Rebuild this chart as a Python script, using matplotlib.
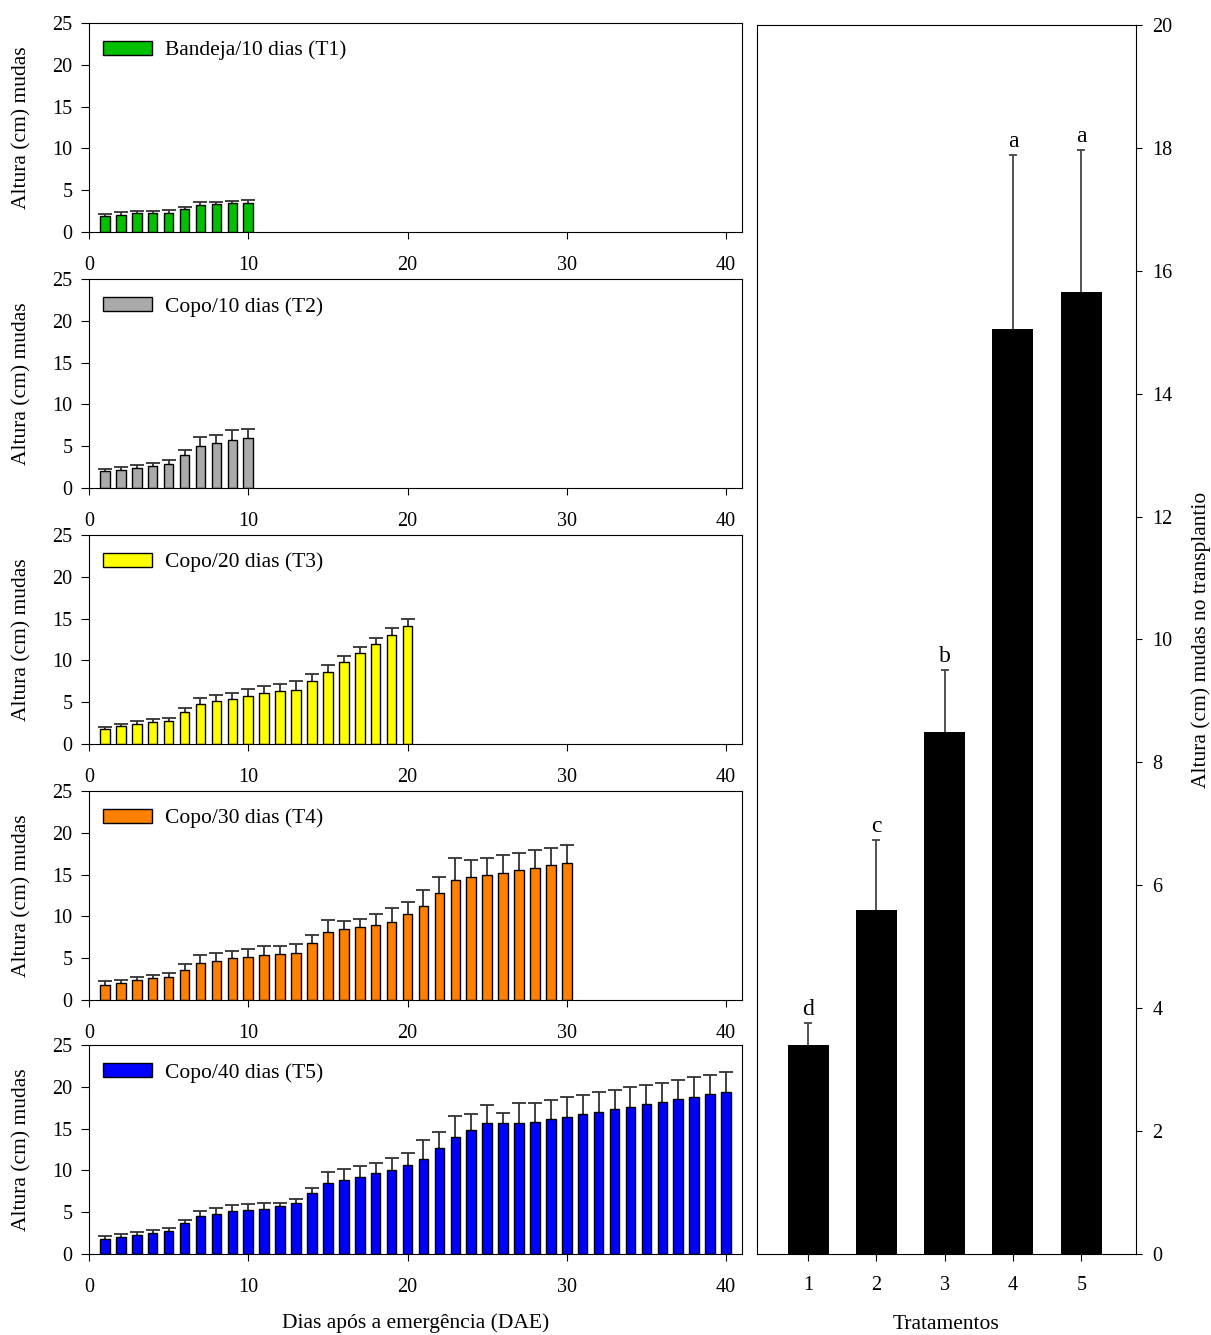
import numpy as np
import matplotlib.pyplot as plt

plt.rcParams['font.family'] = ['Liberation Serif', 'DejaVu Serif']
plt.rcParams['font.size'] = 15

# data
t1_mean = [1.88, 2.08, 2.24, 2.28, 2.32, 2.76, 3.24, 3.32, 3.44, 3.52]
t1_err = [0.32, 0.28, 0.32, 0.28, 0.32, 0.28, 0.36, 0.32, 0.31, 0.31]

t2_mean = [2.0, 2.19, 2.39, 2.67, 2.91, 3.95, 4.98, 5.34, 5.74, 5.98]
t2_err = [0.31, 0.32, 0.40, 0.36, 0.40, 0.63, 1.12, 0.96, 1.16, 1.11]

t3_mean = [1.84, 2.12, 2.40, 2.60, 2.80, 3.84, 4.84, 5.12, 5.36, 5.68,
           6.04, 6.28, 6.48, 7.56, 8.64, 9.76, 10.84, 11.96, 13.08, 14.16]
t3_err = [0.24, 0.24, 0.36, 0.40, 0.36, 0.48, 0.72, 0.72, 0.76, 0.84,
          0.92, 0.88, 1.04, 0.80, 0.80, 0.76, 0.76, 0.76, 0.76, 0.80]

t4_mean = [1.80, 2.08, 2.36, 2.60, 2.80, 3.64, 4.48, 4.72, 5.00, 5.16,
           5.36, 5.52, 5.68, 6.88, 8.16, 8.44, 8.72, 9.00, 9.32, 10.24,
           11.20, 12.76, 14.32, 14.68, 14.96, 15.24, 15.52, 15.84, 16.16, 16.44]
t4_err = [0.44, 0.36, 0.40, 0.40, 0.44, 0.64, 0.88, 0.96, 0.92, 1.00,
          1.12, 1.00, 1.04, 0.84, 1.36, 1.00, 0.96, 1.24, 1.64, 1.52,
          1.92, 1.92, 2.64, 2.12, 2.08, 2.12, 2.08, 2.08, 2.08, 2.12]

t5_mean = [1.80, 2.04, 2.32, 2.52, 2.76, 3.68, 4.56, 4.84, 5.12, 5.24,
           5.40, 5.76, 6.08, 7.28, 8.48, 8.84, 9.24, 9.64, 10.08, 10.68,
           11.36, 12.68, 14.00, 14.88, 15.72, 15.68, 15.72, 15.84, 16.16, 16.40,
           16.76, 17.04, 17.32, 17.60, 17.96, 18.24, 18.56, 18.84, 19.16, 19.44]
t5_err = [0.32, 0.32, 0.28, 0.32, 0.32, 0.36, 0.56, 0.68, 0.72, 0.72,
          0.68, 0.40, 0.48, 0.68, 1.36, 1.32, 1.24, 1.28, 1.36, 1.36,
          2.24, 1.92, 2.48, 1.88, 2.16, 1.20, 2.36, 2.28, 2.28, 2.36,
          2.32, 2.32, 2.36, 2.36, 2.32, 2.28, 2.28, 2.32, 2.28, 2.32]

labels = ['Bandeja/10 dias (T1)', 'Copo/10 dias (T2)', 'Copo/20 dias (T3)',
          'Copo/30 dias (T4)', 'Copo/40 dias (T5)']
colors = ['#00C000', '#AAAAAA', '#FFFF00', '#FF8000', '#0000FF']

trat = [1, 2, 3, 4, 5]
trat_mean = [3.40, 5.60, 8.49, 15.05, 15.65]
trat_err = [0.36, 1.14, 1.01, 2.83, 2.32]
trat_letters = ['d', 'c', 'b', 'a', 'a']

means = [t1_mean, t2_mean, t3_mean, t4_mean, t5_mean]
errs = [t1_err, t2_err, t3_err, t4_err, t5_err]

fig = plt.figure(figsize=(12.11, 13.35), dpi=100)

tops = [0.9828, 0.791, 0.5993, 0.4075, 0.2172]
h = 0.1566
for i in range(5):
    ax = fig.add_axes([0.0735, tops[i] - h, 0.5392, h])
    m = np.array(means[i])
    e = np.array(errs[i])
    x = np.arange(1, len(m) + 1)
    ax.vlines(x, m, m + e, color='#333333', lw=1.3, zorder=1)
    ax.plot(x, m + e, '_', color='#333333', ms=10, mew=1.3, zorder=1)
    ax.bar(x, m, width=0.6, color=colors[i], edgecolor='black', lw=1,
           label=labels[i], zorder=2)
    ax.set_xlim(0, 41)
    ax.set_ylim(0, 25)
    ax.set_xticks([0, 10, 20, 30, 40])
    ax.set_yticks([0, 5, 10, 15, 20, 25])
    ax.tick_params(axis='x', direction='out', length=5, labelsize=14.5, pad=12)
    ax.tick_params(axis='y', direction='out', length=6, labelsize=14.5, pad=6)
    ax.set_ylabel('Altura (cm) mudas', fontsize=15.5, labelpad=15)
    ax.legend(loc='upper left', frameon=False, fontsize=15.5, handlelength=2.3,
              handleheight=0.6, handletextpad=0.6, borderpad=0, borderaxespad=0,
              bbox_to_anchor=(0.021, 0.915))
    if i == 4:
        ax.set_xlabel('Dias após a emergência (DAE)', fontsize=15.5, labelpad=12)

# right panel
axr = fig.add_axes([0.625, 0.0607, 0.313, 0.9206])
axr.vlines(trat, trat_mean, np.array(trat_mean) + np.array(trat_err),
           color='#444444', lw=1.3, zorder=1)
axr.plot(trat, np.array(trat_mean) + np.array(trat_err), '_', color='#444444',
         ms=6, mew=1.3, zorder=1)
axr.bar(trat, trat_mean, width=0.6, color='black', zorder=2)
for xi, mi, ei, lt in zip(trat, trat_mean, trat_err, trat_letters):
    axr.text(xi, mi + ei + 0.05, lt, ha='center', va='bottom', fontsize=17)
axr.set_xlim(0.25, 5.8)
axr.set_ylim(0, 20)
axr.set_xticks(trat)
axr.set_yticks(np.arange(0, 21, 2))
axr.yaxis.tick_right()
axr.yaxis.set_label_position('right')
axr.tick_params(axis='x', direction='out', length=5, labelsize=14.5, pad=11)
axr.tick_params(axis='y', direction='out', length=4, labelsize=14.5, pad=8)
axr.set_ylabel('Altura (cm) mudas no transplantio', fontsize=15.5, labelpad=13)
axr.set_xlabel('Tratamentos', fontsize=15.5, labelpad=14)

fig.savefig('out.png', dpi=100)
